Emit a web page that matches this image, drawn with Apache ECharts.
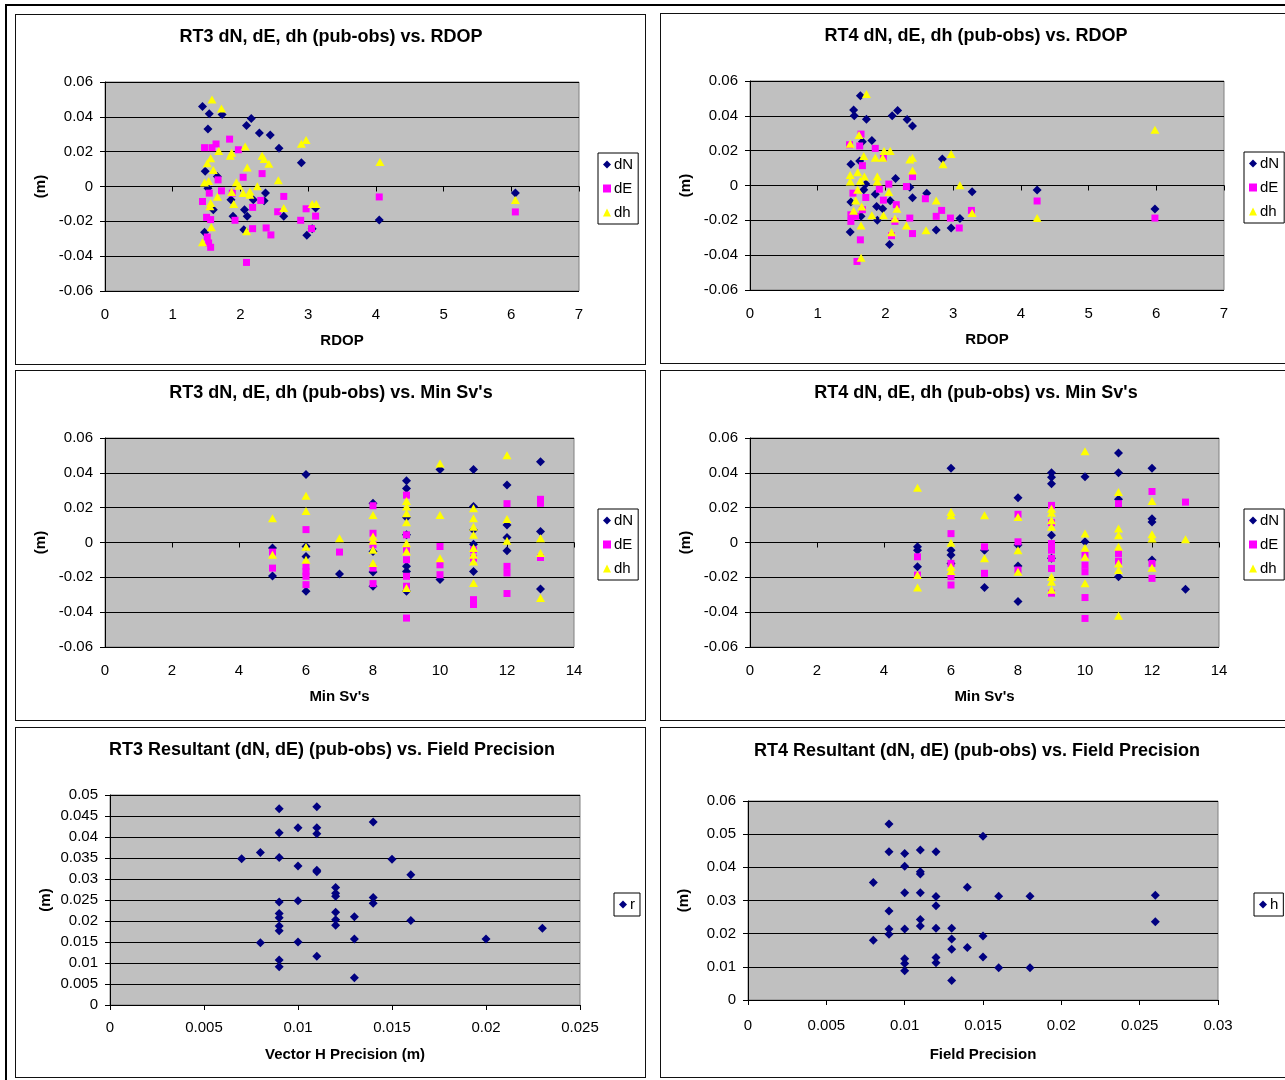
<!doctype html>
<html>
<head>
<meta charset="UTF-8">
<title>RT3 / RT4 pub-obs</title>
<script src="https://cdn.jsdelivr.net/npm/echarts@6/dist/echarts.min.js"></script>
<style>
  html, body { margin: 0; padding: 0; background: #fff; }
  #wrap { position: relative; width: 1285px; height: 1080px; overflow: hidden; }
  #frame { position: absolute; left: 5px; top: 4px; width: 1300px; height: 1100px; border: 2px solid #000; }
  .box { position: absolute; border: 1.5px solid #111; background: #fff; box-sizing: border-box; }
  #main { position: absolute; left: 0; top: 0; width: 1285px; height: 1080px; }
</style>
</head>
<body>
<div id="wrap">
  <div id="frame"></div>
  <div id="boxes"></div>
  <div id="main"></div>
</div>
<script>
// ---- data ----
var rt3RdopN = [[1.44,0.046],[1.54,0.0417],[1.73,0.0413],[1.52,0.033],[2.16,0.039],[2.09,0.035],[2.28,0.0307],[2.44,0.0295],[2.57,0.0219],[2.90,0.0137],[1.48,0.0088],[1.66,0.0057],[1.52,-0.001],[2.37,-0.0038],[1.86,-0.0076],[2.19,-0.0076],[2.35,-0.0082],[2.06,-0.0133],[1.60,-0.0133],[2.10,-0.0171],[1.89,-0.0171],[2.64,-0.0171],[2.05,-0.0248],[1.47,-0.0263],[2.98,-0.028],[3.06,-0.0242],[3.11,-0.0124],[4.05,-0.0192],[6.06,-0.0037]];
var rt3RdopE = [[1.47,0.0223],[1.58,0.0223],[1.64,0.0244],[1.84,0.0272],[1.97,0.0211],[2.32,0.0074],[2.04,0.0053],[1.67,0.0038],[1.72,-0.0025],[1.88,-0.0038],[1.54,-0.0038],[2.64,-0.0057],[1.44,-0.0086],[2.30,-0.008],[2.18,-0.012],[2.97,-0.0128],[2.55,-0.0145],[3.11,-0.017],[1.50,-0.0177],[1.56,-0.019],[1.92,-0.0194],[2.89,-0.0194],[2.38,-0.0238],[2.18,-0.0242],[3.05,-0.0242],[2.45,-0.0278],[1.51,-0.029],[1.53,-0.0324],[1.56,-0.0349],[2.09,-0.0436],[4.05,-0.006],[6.06,-0.0146]];
var rt3RdopH = [[1.58,0.0499],[1.72,0.0448],[2.07,0.023],[1.68,0.0204],[1.87,0.0194],[1.85,0.0177],[2.32,0.0177],[2.35,0.0158],[2.42,0.013],[2.90,0.0246],[2.97,0.0267],[1.56,0.0162],[1.51,0.0133],[1.60,0.0095],[2.10,0.0109],[2.56,0.0036],[2.25,0.0002],[1.94,0.0025],[1.98,0.0004],[1.47,0.0023],[1.53,0.0032],[1.87,-0.0032],[2.04,-0.0038],[2.14,-0.0029],[2.14,-0.0048],[1.66,-0.0059],[1.56,-0.0095],[1.55,-0.0114],[1.90,-0.0101],[2.64,-0.0124],[3.06,-0.0101],[3.12,-0.0101],[1.57,-0.0234],[2.09,-0.0257],[1.44,-0.032],[4.06,0.014],[6.06,-0.0077]];

var rt4RdopN = [[1.63,0.0516],[1.53,0.0434],[1.54,0.04],[1.72,0.0381],[2.18,0.043],[2.10,0.04],[2.32,0.0379],[2.40,0.0341],[1.66,0.0251],[1.80,0.0259],[1.49,0.0122],[1.62,0.0141],[2.15,0.004],[1.71,0.0008],[1.68,-0.0025],[1.85,-0.005],[2.07,-0.0088],[2.40,-0.007],[2.61,-0.0044],[1.49,-0.0095],[1.87,-0.012],[1.96,-0.0133],[1.88,-0.02],[1.64,-0.0177],[1.48,-0.0267],[2.06,-0.0339],[2.75,-0.0255],[2.97,-0.0244],[3.10,-0.019],[2.84,0.0152],[3.28,-0.0036],[2.36,-0.001],[4.24,-0.0026],[5.98,-0.0135]];
var rt4RdopE = [[1.64,0.0295],[1.47,0.0234],[1.62,0.0227],[1.85,0.0213],[1.97,0.016],[1.66,0.0114],[2.05,0.0008],[2.31,-0.0006],[1.91,-0.0021],[1.71,-0.0069],[1.97,-0.0084],[1.52,-0.0044],[2.16,-0.011],[2.40,0.0051],[2.59,-0.0076],[2.83,-0.0143],[2.75,-0.0177],[2.96,-0.0187],[3.09,-0.0244],[3.27,-0.0143],[2.36,-0.0187],[2.40,-0.0276],[2.14,-0.0206],[2.09,-0.0288],[1.63,-0.0312],[1.58,-0.0436],[1.49,-0.0168],[1.49,-0.0206],[1.66,-0.0139],[1.56,-0.0177],[4.24,-0.0089],[5.98,-0.0187]];
var rt4RdopH = [[1.72,0.0526],[1.48,0.024],[1.61,0.029],[1.68,0.017],[1.85,0.016],[1.96,0.016],[1.98,0.0198],[2.07,0.0198],[2.36,0.015],[2.40,0.016],[2.40,0.0086],[2.97,0.0181],[2.85,0.0122],[3.10,0.0002],[1.48,0.0061],[1.48,0.0023],[1.59,0.0076],[1.69,0.0051],[1.63,0.0027],[1.88,0.0051],[1.88,0.0023],[1.59,-0.0025],[2.05,-0.0038],[1.56,-0.0086],[1.65,-0.012],[1.53,-0.0145],[1.80,-0.0171],[1.97,-0.0171],[2.17,-0.0133],[2.14,-0.019],[2.31,-0.023],[1.64,-0.023],[2.09,-0.0269],[2.60,-0.0257],[2.75,-0.0086],[3.28,-0.0158],[1.64,-0.0415],[5.98,0.032],[4.24,-0.0187]];

var rt3SvN = [[5,-0.0032],[5,-0.0192],[6,0.039],[6,-0.0023],[6,-0.008],[6,-0.028],[7,-0.0181],[8,0.0225],[8,-0.0051],[8,-0.017],[8,-0.0251],[9,0.0354],[9,0.031],[9,0.0143],[9,0.0044],[9,-0.0137],[9,-0.0166],[9,-0.028],[10,0.0419],[10,-0.0213],[11,0.0419],[11,0.0206],[11,0.0072],[11,-0.001],[11,-0.0166],[12,0.033],[12,0.0101],[12,0.0029],[12,-0.0048],[13,0.0463],[13,0.0063],[13,-0.0267]];
var rt3SvE = [[5,-0.0055],[5,-0.0147],[6,0.0074],[6,-0.0137],[6,-0.0166],[6,-0.0194],[6,-0.0242],[7,-0.0055],[8,0.0211],[8,0.0053],[8,-0.0013],[8,-0.0147],[8,-0.0236],[9,0.0272],[9,0.0044],[9,-0.0042],[9,-0.0099],[9,-0.0194],[9,-0.0251],[9,-0.0434],[10,-0.0023],[10,-0.0128],[10,-0.0185],[11,-0.0042],[11,-0.009],[11,-0.0328],[11,-0.0356],[12,0.0223],[12,-0.0137],[12,-0.0175],[12,-0.0293],[13,0.0248],[13,0.0225],[13,-0.0086]];
var rt3SvH = [[5,0.0139],[5,-0.007],[6,0.0269],[6,0.0181],[6,-0.0025],[6,-0.0099],[7,0.0025],[8,0.0158],[8,0.0034],[8,0.001],[8,-0.0042],[8,-0.0118],[9,0.0238],[9,0.0206],[9,0.0168],[9,0.0116],[9,-0.0004],[9,-0.0051],[9,-0.0261],[10,0.0453],[10,0.0158],[10,-0.009],[11,0.0196],[11,0.0139],[11,0.0091],[11,0.0044],[11,-0.0032],[11,-0.007],[11,-0.0109],[11,-0.0232],[12,0.0501],[12,0.0135],[12,0.001],[13,0.0025],[13,-0.0061],[13,-0.0318]];

var rt4SvN = [[5,-0.0025],[5,-0.0044],[5,-0.0139],[6,0.0427],[6,-0.0044],[6,-0.0072],[6,-0.012],[7,-0.0044],[7,-0.0259],[8,0.0257],[8,-0.0015],[8,-0.0135],[8,-0.0339],[9,0.04],[9,0.0375],[9,0.0337],[9,0.0042],[9,-0.0091],[10,0.0377],[10,0.0004],[11,0.0514],[11,0.04],[11,0.0248],[11,-0.0196],[12,0.0427],[12,0.0137],[12,0.0118],[12,-0.0101],[13,-0.0269]];
var rt4SvE = [[5,-0.0082],[5,-0.0187],[6,0.0051],[6,-0.012],[6,-0.0196],[6,-0.0244],[7,-0.0025],[7,-0.0177],[8,0.0162],[8,0.0004],[8,-0.0158],[9,0.0213],[9,0.0114],[9,-0.0006],[9,-0.0044],[9,-0.0091],[9,-0.0149],[9,-0.0291],[10,-0.0072],[10,-0.013],[10,-0.0168],[10,-0.0316],[10,-0.0436],[11,0.0223],[11,-0.0063],[11,-0.0107],[12,0.0293],[12,-0.012],[12,-0.0206],[13,0.0232]];
var rt4SvH = [[5,0.0314],[5,-0.0187],[5,-0.0259],[6,0.0175],[6,0.0156],[6,-0.0002],[6,-0.0139],[6,-0.0164],[7,0.0156],[7,-0.0091],[8,0.0147],[8,-0.0044],[8,-0.0168],[9,0.0194],[9,0.0171],[9,0.0128],[9,0.009],[9,-0.0196],[9,-0.0225],[9,-0.0272],[10,0.0524],[10,0.0051],[10,-0.003],[10,-0.0082],[10,-0.0234],[11,0.029],[11,0.008],[11,0.0042],[11,-0.0025],[11,-0.012],[11,-0.0158],[11,-0.0421],[12,0.0238],[12,0.0048],[12,0.0023],[12,-0.0145],[13,0.0019]];

var rt3Res = [[0.009,0.0467],[0.011,0.0472],[0.014,0.0436],[0.01,0.0422],[0.011,0.0422],[0.011,0.0408],[0.009,0.041],[0.008,0.0363],[0.007,0.0348],[0.009,0.0351],[0.015,0.0347],[0.01,0.0331],[0.011,0.0321],[0.011,0.0317],[0.016,0.031],[0.012,0.028],[0.012,0.0266],[0.012,0.0259],[0.014,0.0256],[0.014,0.0242],[0.009,0.0245],[0.01,0.0248],[0.009,0.0218],[0.009,0.0208],[0.009,0.0188],[0.009,0.0177],[0.012,0.0221],[0.012,0.0203],[0.012,0.019],[0.013,0.021],[0.016,0.0201],[0.023,0.0183],[0.02,0.0157],[0.013,0.0157],[0.008,0.0148],[0.01,0.015],[0.011,0.0116],[0.009,0.0107],[0.009,0.0091],[0.013,0.0065]];
var rt4Res = [[0.009,0.0531],[0.015,0.0494],[0.009,0.0447],[0.01,0.0442],[0.011,0.0452],[0.012,0.0447],[0.01,0.0403],[0.011,0.0387],[0.011,0.038],[0.008,0.0354],[0.014,0.034],[0.01,0.0323],[0.011,0.0323],[0.012,0.0312],[0.016,0.0313],[0.018,0.0313],[0.026,0.0316],[0.012,0.0284],[0.009,0.0268],[0.011,0.0243],[0.011,0.0223],[0.026,0.0236],[0.009,0.0214],[0.009,0.0198],[0.01,0.0214],[0.012,0.0216],[0.013,0.0216],[0.008,0.018],[0.013,0.0184],[0.015,0.0193],[0.013,0.0153],[0.014,0.0158],[0.015,0.013],[0.012,0.0128],[0.012,0.0112],[0.01,0.0124],[0.01,0.011],[0.01,0.0088],[0.016,0.0097],[0.018,0.0097],[0.013,0.0059]];

// axis ranges: [min, max, interval]
var rdopRange = [0, 7, 1];
var svRange = [0, 14, 2];
var dRange = [-0.06, 0.06, 0.02];
var res3XRange = [0, 0.025, 0.005];
var res3YRange = [0, 0.05, 0.005];
var res4XRange = [0, 0.03, 0.005];
var res4YRange = [0, 0.06, 0.01];

var titles = [
  "RT3 dN, dE, dh (pub-obs) vs. RDOP",
  "RT4 dN, dE, dh (pub-obs) vs. RDOP",
  "RT3 dN, dE, dh (pub-obs) vs. Min Sv's",
  "RT4 dN, dE, dh (pub-obs) vs. Min Sv's",
  "RT3 Resultant (dN, dE) (pub-obs) vs. Field Precision",
  "RT4 Resultant (dN, dE) (pub-obs) vs. Field Precision"
];
var xNames = ["RDOP", "RDOP", "Min Sv's", "Min Sv's", "Vector H Precision (m)", "Field Precision"];

var FONT = "'Liberation Sans', Arial, sans-serif";
var mk = {
  dN: { symbol: 'diamond', size: [9, 9], color: '#000080' },
  dE: { symbol: 'rect', size: [7, 7], color: '#FF00FF' },
  dh: { symbol: 'triangle', size: [9, 8], color: '#FFFF00' }
};

// panel boxes and plot areas
var panels = [
  { box: [15, 14, 631, 351], grid: [105, 82, 474, 209], title: [331, 37], legend: [598, 153], xGap: 42, xMargin: 16 },
  { box: [660, 13, 640, 351], grid: [750, 81, 474, 209], title: [976, 36], legend: [1244, 152], xGap: 42, xMargin: 16 },
  { box: [15, 370, 631, 351], grid: [105, 438, 469, 209], title: [331, 393], legend: [598, 509], xGap: 42, xMargin: 16 },
  { box: [660, 370, 640, 351], grid: [750, 438, 469, 209], title: [976, 393], legend: [1244, 509], xGap: 42, xMargin: 16 },
  { box: [15, 727, 631, 351], grid: [110, 795, 470, 210], title: [332, 750], legend: [614, 893], xGap: 42, xMargin: 15 },
  { box: [660, 727, 640, 351], grid: [748, 801, 470, 199], title: [977, 751], legend: [1254, 893], xGap: 47, xMargin: 18 }
];

var grids = [], xAxes = [], yAxes = [], series = [], legends = [], graphics = [];
var boxHtml = '';

function addPanel(i, xr, yr, sets, zeroAxis) {
  var p = panels[i];
  boxHtml += '<div class="box" style="left:' + p.box[0] + 'px;top:' + p.box[1] + 'px;width:' +
    p.box[2] + 'px;height:' + p.box[3] + 'px"></div>';
  graphics.push({ type: 'text', silent: true, x: p.title[0], y: p.title[1],
    style: { text: titles[i], fill: '#000', font: 'bold 18px ' + FONT, textAlign: 'center', textVerticalAlign: 'middle' } });

  grids.push({ left: p.grid[0], top: p.grid[1], width: p.grid[2], height: p.grid[3],
    show: true, backgroundColor: '#C0C0C0', borderColor: '#808080', borderWidth: 1 });
  var gi = grids.length - 1;

  var yi = yAxes.length;
  yAxes.push({
    gridIndex: gi, type: 'value', min: yr[0], max: yr[1], interval: yr[2],
    name: '(m)', nameLocation: 'middle', nameGap: 57,
    nameTextStyle: { fontFamily: FONT, fontWeight: 'bold', fontSize: 15, color: '#000' },
    axisLine: { show: true, onZero: false, lineStyle: { color: '#000', width: 1 } },
    axisTick: { show: true, length: 5, lineStyle: { color: '#000' } },
    axisLabel: { fontFamily: FONT, fontSize: 15, color: '#000', margin: 12 },
    splitLine: { show: true, lineStyle: { color: '#000', width: 1 } }
  });

  var xi = xAxes.length;
  xAxes.push({
    gridIndex: gi, type: 'value', position: 'bottom', min: xr[0], max: xr[1], interval: xr[2],
    name: xNames[i], nameLocation: 'middle', nameGap: p.xGap,
    nameTextStyle: { fontFamily: FONT, fontWeight: 'bold', fontSize: 15, color: '#000' },
    axisLine: { show: !zeroAxis, onZero: false, lineStyle: { color: '#000', width: 1 } },
    axisTick: { show: !zeroAxis, length: 5, lineStyle: { color: '#000' } },
    axisLabel: { fontFamily: FONT, fontSize: 15, color: '#000', margin: p.xMargin },
    splitLine: { show: false }
  });
  if (zeroAxis) {
    xAxes.push({
      gridIndex: gi, type: 'value', position: 'bottom', min: xr[0], max: xr[1], interval: xr[2],
      axisLine: { show: true, onZero: true, lineStyle: { color: '#000', width: 1 } },
      axisTick: { show: true, length: 5, lineStyle: { color: '#000' } },
      axisLabel: { show: false },
      splitLine: { show: false }
    });
  }

  var names = [];
  sets.forEach(function (s) {
    var m = mk[s.kind];
    names.push(s.name);
    series.push({
      type: 'scatter', name: s.name, xAxisIndex: xi, yAxisIndex: yi,
      data: s.data, symbol: m.symbol, symbolSize: m.size,
      itemStyle: { color: m.color, opacity: 1 },
      silent: true, animation: false
    });
  });

  legends.push({
    data: names, orient: 'vertical', left: p.legend[0], top: p.legend[1],
    padding: [4, 5, 4, 5], itemGap: 9, itemWidth: 8, itemHeight: 8,
    backgroundColor: '#fff', borderColor: '#000', borderWidth: 1,
    selectedMode: false,
    textStyle: { fontFamily: FONT, fontSize: 15, color: '#000', lineHeight: 14, padding: [0, 0, 0, -2] }
  });
}

addPanel(0, rdopRange, dRange, [
  { name: 'dN', kind: 'dN', data: rt3RdopN },
  { name: 'dE', kind: 'dE', data: rt3RdopE },
  { name: 'dh', kind: 'dh', data: rt3RdopH }], true);
addPanel(1, rdopRange, dRange, [
  { name: 'dN', kind: 'dN', data: rt4RdopN },
  { name: 'dE', kind: 'dE', data: rt4RdopE },
  { name: 'dh', kind: 'dh', data: rt4RdopH }], true);
addPanel(2, svRange, dRange, [
  { name: 'dN', kind: 'dN', data: rt3SvN },
  { name: 'dE', kind: 'dE', data: rt3SvE },
  { name: 'dh', kind: 'dh', data: rt3SvH }], true);
addPanel(3, svRange, dRange, [
  { name: 'dN', kind: 'dN', data: rt4SvN },
  { name: 'dE', kind: 'dE', data: rt4SvE },
  { name: 'dh', kind: 'dh', data: rt4SvH }], true);
addPanel(4, res3XRange, res3YRange, [{ name: 'r', kind: 'dN', data: rt3Res }], false);
addPanel(5, res4XRange, res4YRange, [{ name: 'h', kind: 'dN', data: rt4Res }], false);

document.getElementById('boxes').innerHTML = boxHtml;

var myChart = echarts.init(document.getElementById('main'), null, { renderer: 'canvas' });
myChart.setOption({
  animation: false,
  backgroundColor: 'transparent',
  graphic: { elements: graphics },
  grid: grids,
  xAxis: xAxes,
  yAxis: yAxes,
  legend: legends,
  series: series
});
</script>
</body>
</html>
